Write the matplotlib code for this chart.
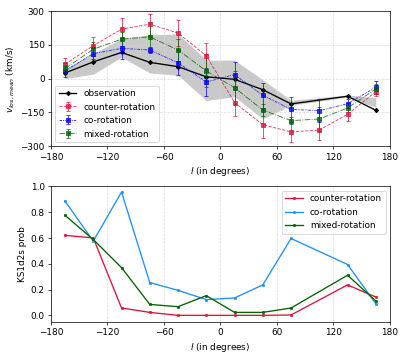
import matplotlib
matplotlib.use("Agg")
from matplotlib import pyplot as plt
import numpy as np

# longitudes (deg)
l_mod = [-165, -135, -105, -75, -45, -15, 15, 45, 75, 105, 135, 165]
l_obs = [-165, -135, -105, -75, -45, -15, 15, 45, 75, 135, 165]

# top panel: mean los velocity
v_obs = [25, 74, 116, 72, 53, 8, -3, -49, -112, -78, -140]
band_lo = [0, 20, 95, 25, 15, -97, -80, -178, -118, -82, -127]
band_hi = [45, 110, 178, 194, 198, 82, 82, -5, -96, -72, -85]

v_counter = [64, 146, 219, 241, 202, 101, -106, -204, -236, -228, -158, -58]
e_counter = [28, 38, 48, 46, 58, 58, 58, 60, 45, 44, 30, 18]
v_co = [34, 111, 134, 127, 70, -15, 18, -74, -136, -142, -111, -38]
e_co = [25, 25, 45, 15, 55, 60, 55, 55, 55, 50, 20, 28]
v_mixed = [45, 130, 175, 185, 127, 34, -40, -139, -186, -179, -130, -46]
e_mixed = [22, 30, 30, 65, 50, 73, 73, 25, 15, 55, 20, 20]

# bottom panel: KS probabilities
ks_counter = [0.62, 0.60, 0.057, 0.023, 0.0, 0.0, 0.0, 0.0, 0.003, 0.236, 0.142]
ks_co = [0.886, 0.575, 0.956, 0.254, 0.194, 0.122, 0.135, 0.236, 0.596, 0.394, 0.09]
ks_mixed = [0.775, 0.588, 0.37, 0.085, 0.067, 0.153, 0.023, 0.023, 0.057, 0.311, 0.111]

fig, (ax1, ax2) = plt.subplots(2, 1, figsize=(6.4, 5.6))
fig.subplots_adjust(left=0.125, right=0.958, top=0.969, bottom=0.096, hspace=0.295)

ax1.fill_between(l_obs, band_lo, band_hi, color="grey", alpha=0.42, lw=0)
ax1.plot(l_obs, v_obs, color="black", marker="D", ms=3.5, label="observation")
ax1.errorbar(l_mod, v_counter, yerr=e_counter, color="crimson", ls="--", lw=1,
             marker="s", ms=3.5, capsize=2.5, alpha=0.8, label="counter-rotation")
ax1.errorbar(l_mod, v_co, yerr=e_co, color="blue", ls=(0, (3, 1, 1, 1, 1, 1)), lw=1,
             marker="s", ms=3.5, capsize=2.5, alpha=0.8, label="co-rotation")
ax1.errorbar(l_mod, v_mixed, yerr=e_mixed, color="darkgreen", ls="-.", lw=1,
             marker="s", ms=3.5, capsize=2.5, alpha=0.8, label="mixed-rotation")
ax1.set_xlim(-180, 180)
ax1.set_ylim(-300, 300)
ax1.set_xticks(np.arange(-180, 181, 60))
ax1.set_yticks(np.arange(-300, 301, 150))
ax1.grid(True, ls="--", color="lightgrey", alpha=0.8)
ax1.set_xlabel("$l$ (in degrees)")
ax1.set_ylabel("$v_{los,mean}$ (km/s)")
ax1.legend(loc="lower left")

ax2.plot(l_obs, ks_counter, color="crimson", marker="s", ms=2, label="counter-rotation")
ax2.plot(l_obs, ks_co, color="dodgerblue", marker="s", ms=2, label="co-rotation")
ax2.plot(l_obs, ks_mixed, color="darkgreen", marker="s", ms=2, label="mixed-rotation")
ax2.set_xlim(-180, 180)
ax2.set_ylim(-0.05, 1.0)
ax2.set_xticks(np.arange(-180, 181, 60))
ax2.grid(True, axis="x", ls="--", color="lightgrey", alpha=0.8)
ax2.set_xlabel("$l$ (in degrees)")
ax2.set_ylabel("KS1d2s prob")
ax2.legend(loc="upper right")

plt.savefig("out.png", dpi=63.6)
plt.close()
